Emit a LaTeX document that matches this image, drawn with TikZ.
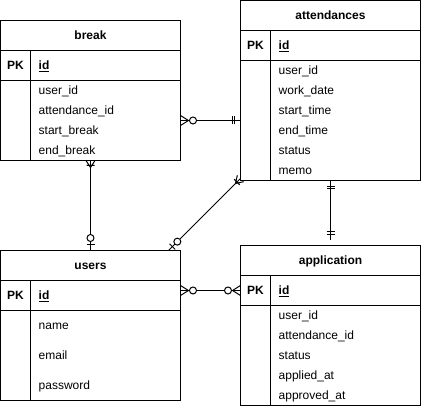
\documentclass[tikz,border=0pt]{standalone}
\usepackage{fontspec}
\setmainfont{Liberation Sans}
\usetikzlibrary{calc}
\tikzset{
  tbl/.style={draw, line width=1pt, inner sep=0pt, outer sep=0pt, minimum width=180pt, anchor=north west},
  conn/.style={line width=1pt},
  hdr/.style={inner sep=0pt, text height=8.5pt, text depth=0pt, font=\bfseries\fontsize{12}{14}\selectfont},
  fld/.style={inner sep=0pt, anchor=west, text height=8.5pt, text depth=0pt, font=\fontsize{12}{14}\selectfont},
  erOne/.pic={\draw[conn] (6,-4) -- (6,4) (8.5,-4) -- (8.5,4);},
  erZeroOne/.pic={\draw[conn] (5.5,-4) -- (5.5,4); \draw[conn,fill=white] (12.5,0) circle (3.5pt);},
  erOneMany/.pic={\draw[conn] (0,-4.5) -- (7,0) -- (0,4.5) (5,-4) -- (5,4);},
  erZeroMany/.pic={\draw[conn] (0,-5) -- (8,0) -- (0,5); \draw[conn,fill=white] (12.5,0) circle (3.5pt);}
}
\begin{document}
\begin{tikzpicture}[x=1pt,y=-1pt]
\useasboundingbox (-0.5,-0.5) rectangle (420.5,405.5);
% tables
\node[tbl, minimum height=140pt] (brk) at (0,20) {};
\node[tbl, minimum height=180pt] (att) at (240,0) {};
\node[tbl, minimum height=150pt] (usr) at (0,250) {};
\node[tbl, minimum height=160pt] (app) at (240,245) {};
\foreach \t/\ttl in {brk/break,att/attendances,usr/users,app/application}{
  \draw[conn] ($(\t.north west)+(0,30)$) -- ($(\t.north east)+(0,30)$);
  \draw[conn] ($(\t.north west)+(0,60)$) -- ($(\t.north east)+(0,60)$);
  \draw[conn] ($(\t.north west)+(30,30)$) -- ($(\t.south west)+(30,0)$);
  \node[hdr] (\t-title) at ($(\t.north)+(0,15)$) {\ttl};
  \node[hdr] (\t-pk) at ($(\t.north west)+(15,45)$) {PK};
  \node[fld, font=\bfseries\fontsize{12}{14}\selectfont] (\t-id) at ($(\t.north west)+(38,45)$) {\underline{id}};
}
% fields
\foreach \f [count=\i from 0] in {user\_id,attendance\_id,start\_break,end\_break}
  \node[fld] (brk-f\i) at ($(brk.north west)+(38,70+20*\i)$) {\f};
\foreach \f [count=\i from 0] in {user\_id,work\_date,start\_time,end\_time,status,memo}
  \node[fld] (att-f\i) at ($(att.north west)+(38,70+20*\i)$) {\f};
\foreach \f [count=\i from 0] in {name,email,password}
  \node[fld] (usr-f\i) at ($(usr.north west)+(38,75+30*\i)$) {\f};
\foreach \f [count=\i from 0] in {user\_id,attendance\_id,status,applied\_at,approved\_at}
  \node[fld] (app-f\i) at ($(app.north west)+(38,70+20*\i)$) {\f};
% relations
\draw[conn] ($(brk.east)+(0,30)$) coordinate (ba1) -- ($(att.west)+(0,30)$) coordinate (ba2);
\pic at (ba1) {erZeroMany};
\pic[rotate=180] at (ba2) {erOne};
\draw[conn] (brk.south) -- (usr.north);
\pic[rotate=-90] at (brk.south) {erOneMany};
\pic[rotate=90] at (usr.north) {erZeroOne};
\draw[conn] ($(att.south west)+(0,-2)$) coordinate (au1) -- ($(usr.north east)+(-12,0)$) coordinate (au2);
\pic[rotate=225] at (au1) {erOneMany};
\pic[rotate=45] at (au2) {erZeroOne};
\draw[conn] (att.south) -- ($(app.north)+(0,-5)$) coordinate (aa2);
\pic[rotate=-90] at (att.south) {erOne};
\pic[rotate=90] at (aa2) {erOne};
\draw[conn] ($(usr.east)+(0,-35)$) coordinate (ua1) -- ($(app.west)+(0,-35)$) coordinate (ua2);
\pic at (ua1) {erZeroMany};
\pic[rotate=180] at (ua2) {erZeroMany};
\end{tikzpicture}
\end{document}
